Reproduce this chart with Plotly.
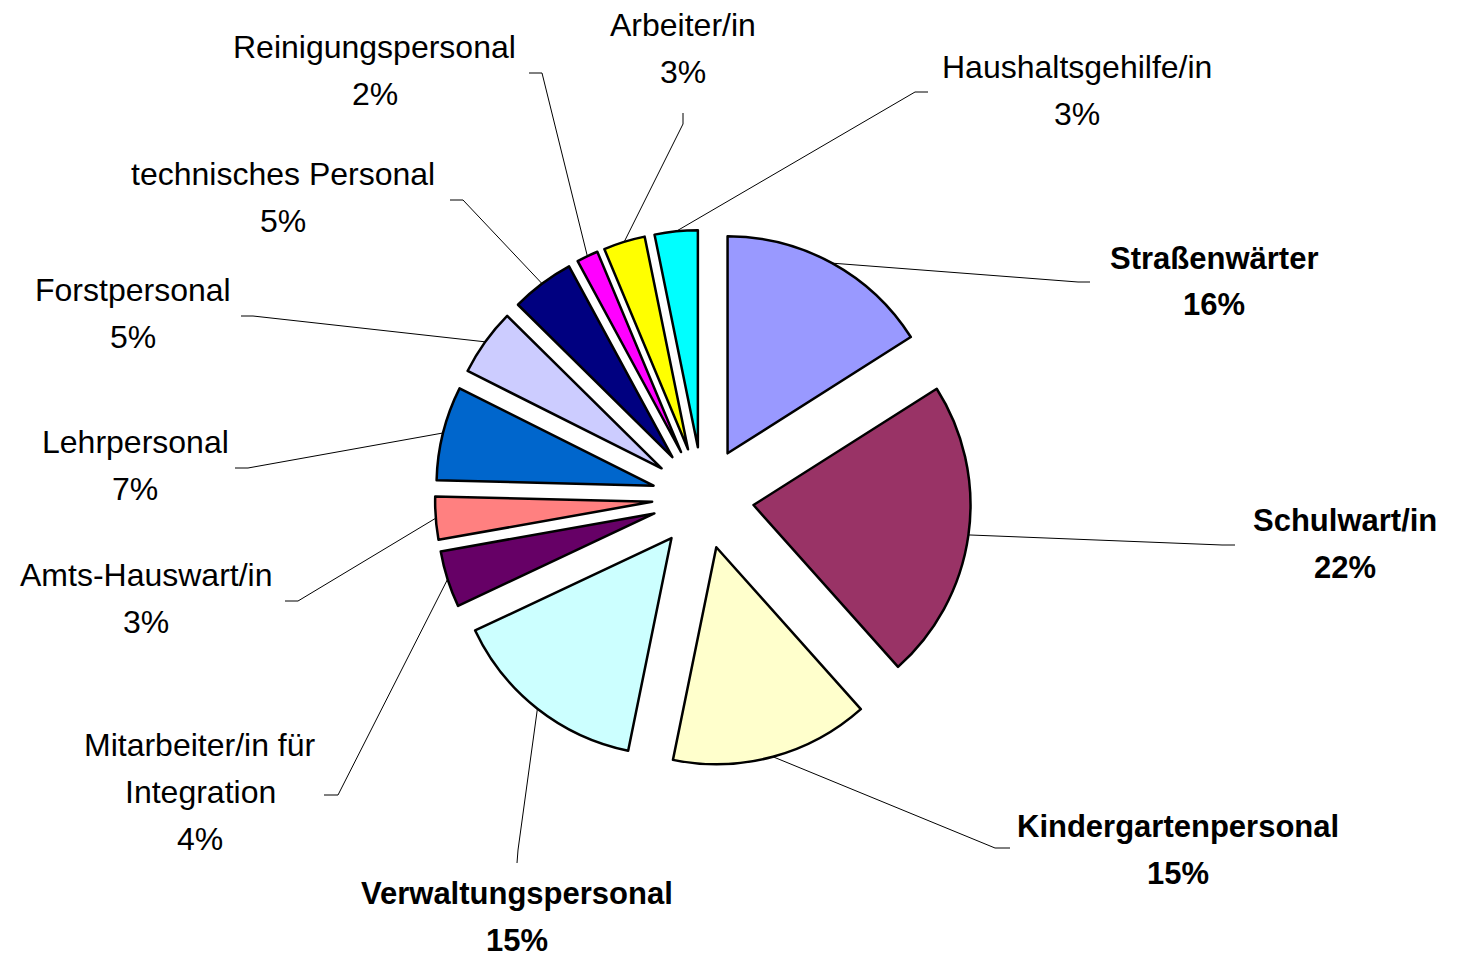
import math
import plotly.graph_objects as go

# ---------------- data ----------------
categories = ["Straßenwärter", "Schulwart/in", "Kindergartenpersonal", "Verwaltungspersonal",
              "Mitarbeiter/in für Integration", "Amts-Hauswart/in", "Lehrpersonal", "Forstpersonal",
              "technisches Personal", "Reinigungspersonal", "Arbeiter/in", "Haushaltsgehilfe/in"]
values = [16.0, 22.4, 14.8, 14.8, 4.2, 3.2, 7.0, 5.0, 4.7, 1.6, 3.1, 3.2]
bold_labels = ["Straßenwärter", "Schulwart/in", "Kindergartenpersonal", "Verwaltungspersonal"]

# ---------------- styles / layout ----------------
colors = ["#9999FF", "#993366", "#FFFFCC", "#CCFFFF", "#660066", "#FF8080",
          "#0066CC", "#CCCCFF", "#000080", "#FF00FF", "#FFFF00", "#00FFFF"]
W, H = 1457, 957
CX, CY = 703, 498          # pie centre (px)
BOX = 536                  # pie domain side (px)
PULL = 0.235
FONT = "Liberation Sans, Arial, sans-serif"
LINE_GAP = 47

# label layout: text centre x, first-line y, elbow point, end point (px)
label_layout = {
    "Straßenwärter": dict(tx=1214, ty=258, elbow=(1078, 282), end=(1090, 282)),
    "Schulwart/in": dict(tx=1345, ty=520, elbow=(1222, 545), end=(1235, 545)),
    "Kindergartenpersonal": dict(tx=1178, ty=826, elbow=(995, 848), end=(1010, 848)),
    "Verwaltungspersonal": dict(tx=517, ty=893, elbow=(518, 850), end=(517, 863)),
    "Mitarbeiter/in für Integration": dict(tx=200, ty=745, elbow=(338, 795), end=(324, 795),
                                           lines=["Mitarbeiter/in für", "Integration"]),
    "Amts-Hauswart/in": dict(tx=146, ty=575, elbow=(298, 601), end=(285, 601)),
    "Lehrpersonal": dict(tx=135, ty=442, elbow=(248, 468), end=(235, 468)),
    "Forstpersonal": dict(tx=133, ty=290, elbow=(253, 316), end=(241, 316)),
    "technisches Personal": dict(tx=283, ty=174, elbow=(463, 200), end=(450, 200)),
    "Reinigungspersonal": dict(tx=375, ty=47, elbow=(542, 73), end=(529, 73)),
    "Arbeiter/in": dict(tx=683, ty=25, elbow=(683, 124), end=(683, 113)),
    "Haushaltsgehilfe/in": dict(tx=1077, ty=67, elbow=(915, 92), end=(928, 92)),
}


def px(x):
    return x / W


def py(y):
    return 1 - y / H


fig = go.Figure(go.Pie(
    labels=categories, values=values, sort=False, direction="clockwise", rotation=0,
    pull=[PULL] * len(values),
    marker=dict(colors=colors, line=dict(color="black", width=2.5)),
    textinfo="none", hoverinfo="label+percent", showlegend=False,
    domain=dict(x=[px(CX - BOX / 2), px(CX + BOX / 2)],
                y=[py(CY + BOX / 2), py(CY - BOX / 2)]),
))

# geometry of the pulled slices (same rules as plotly's pie)
r = BOX / (2 + 2 * PULL)
total = sum(values)
annotations, shapes = [], []
angle = 0.0
for name, v in zip(categories, values):
    mid = angle + math.pi * v / total
    angle += 2 * math.pi * v / total
    sx = CX + (1 + PULL) * r * math.sin(mid)
    sy = CY - (1 + PULL) * r * math.cos(mid)
    L = label_layout[name]
    ex, ey = L["elbow"]
    fx, fy = L["end"]
    shapes.append(dict(type="path", xref="paper", yref="paper",
                       path=f"M {px(sx)} {py(sy)} L {px(ex)} {py(ey)} L {px(fx)} {py(fy)}",
                       line=dict(color="black", width=1)))
    lines = L.get("lines", [name]) + [f"{round(v / total * 100)}%"]
    is_bold = name in bold_labels
    for k, t in enumerate(lines):
        annotations.append(dict(
            x=px(L["tx"]), y=py(L["ty"] + k * LINE_GAP), xref="paper", yref="paper",
            text=f"<b>{t}</b>" if is_bold else t, showarrow=False,
            xanchor="center", yanchor="middle",
            font=dict(family=FONT, size=31 if is_bold else 32, color="black")))

fig.update_layout(
    width=W, height=H, margin=dict(l=0, r=0, t=0, b=0),
    paper_bgcolor="white", plot_bgcolor="white",
    annotations=annotations, shapes=shapes,
)

fig.write_html("out.html", config={"displayModeBar": False},
               post_script="document.body.style.margin='0px';document.body.style.overflow='hidden';")
